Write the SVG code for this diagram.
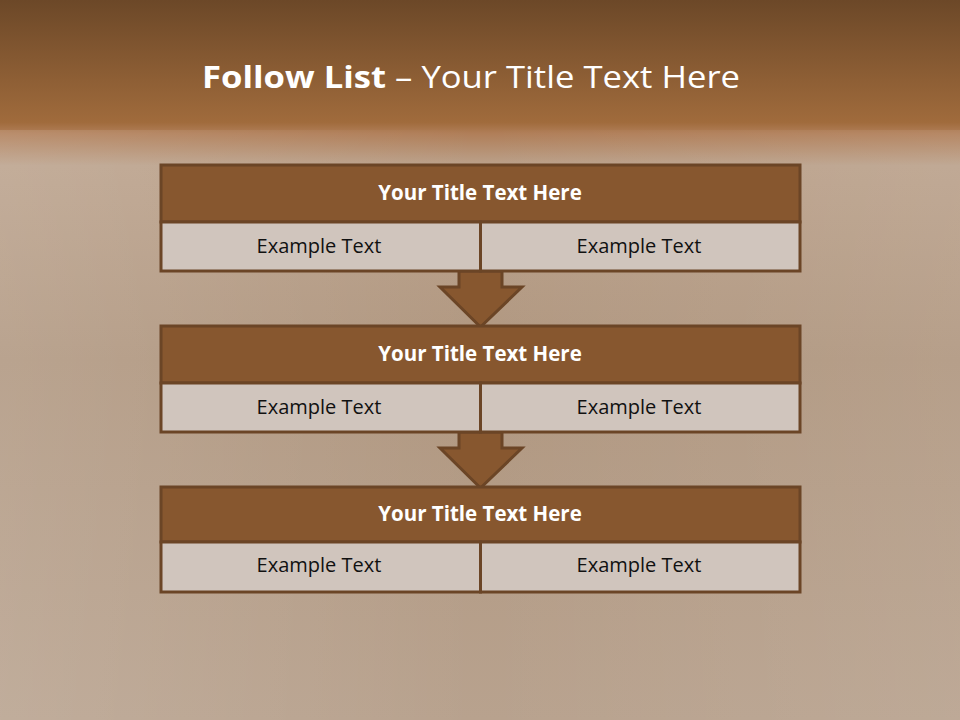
<svg xmlns="http://www.w3.org/2000/svg" width="960" height="720" viewBox="0 0 960 720">
<defs>
<linearGradient id="bg" x1="0" y1="0" x2="0" y2="1">
<stop offset="0" stop-color="#6c4828"/>
<stop offset="0.17" stop-color="#a06b3c"/>
<stop offset="0.185" stop-color="#b07e58"/>
<stop offset="0.23" stop-color="#bba28c"/>
<stop offset="0.5" stop-color="#b09780"/>
<stop offset="1" stop-color="#b8a28e"/>
</linearGradient>
<linearGradient id="side" x1="0" y1="0" x2="1" y2="0">
<stop offset="0" stop-color="#ffffff" stop-opacity="0.12"/>
<stop offset="0.5" stop-color="#ffffff" stop-opacity="0"/>
<stop offset="1" stop-color="#ffffff" stop-opacity="0.08"/>
</linearGradient>
<style>
.title{fill:#87572f;stroke:#6b4526;stroke-width:3}
.cell{fill:#d0c5bd;stroke:#6b4526;stroke-width:3}
.arrow{fill:#87572f;stroke:#6b4526;stroke-width:3;stroke-linejoin:miter}
.tt{font-family:"Open Sans","Liberation Sans",sans-serif;font-weight:bold;font-size:20.5px;fill:#ffffff;text-anchor:middle}
.et{font-family:"Open Sans","Liberation Sans",sans-serif;font-size:20px;fill:#111111;text-anchor:middle}
</style>
</defs>
<rect x="0" y="0" width="960" height="720" fill="url(#bg)"/>
<rect x="0" y="130" width="960" height="590" fill="url(#side)"/>
<text x="202" y="88" font-family="Open Sans,Liberation Sans,sans-serif" font-size="31" fill="#ffffff" textLength="538" lengthAdjust="spacingAndGlyphs"><tspan font-weight="bold">Follow List</tspan>  – Your Title Text Here</text>
<g id="connectors">
<polygon class="arrow" points="459,271 502,271 502,287 522,287 480.5,327 440,287 459,287"/>
<polygon class="arrow" points="459,432 502,432 502,448 522,448 480.5,488 440,448 459,448"/>
</g>
<g id="node1">
<rect class="title" x="161" y="165" width="639" height="57"/>
<rect class="cell" x="161" y="222" width="319.5" height="49"/>
<rect class="cell" x="480.5" y="222" width="319.5" height="49"/>
<text class="tt" x="480" y="200">Your Title Text Here</text>
<text class="et" x="319" y="253">Example Text</text>
<text class="et" x="639" y="253">Example Text</text>
</g>
<g id="node2">
<rect class="title" x="161" y="326" width="639" height="57"/>
<rect class="cell" x="161" y="383" width="319.5" height="49"/>
<rect class="cell" x="480.5" y="383" width="319.5" height="49"/>
<text class="tt" x="480" y="361">Your Title Text Here</text>
<text class="et" x="319" y="414">Example Text</text>
<text class="et" x="639" y="414">Example Text</text>
</g>
<g id="node3">
<rect class="title" x="161" y="487" width="639" height="55"/>
<rect class="cell" x="161" y="542" width="319.5" height="50"/>
<rect class="cell" x="480.5" y="542" width="319.5" height="50"/>
<text class="tt" x="480" y="521">Your Title Text Here</text>
<text class="et" x="319" y="572">Example Text</text>
<text class="et" x="639" y="572">Example Text</text>
</g>
</svg>
